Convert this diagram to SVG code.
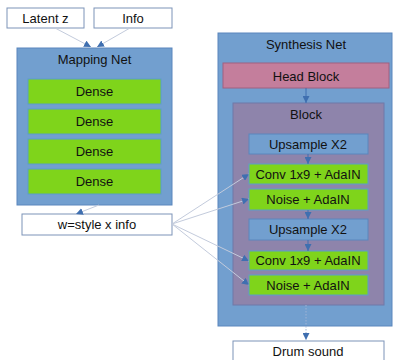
<svg xmlns="http://www.w3.org/2000/svg" width="393" height="360" viewBox="0 0 393 360">
<defs>
<style>
text{font-family:"Liberation Sans",Arial,sans-serif;font-size:13px;fill:#111;text-anchor:middle;dominant-baseline:central}
.white{fill:#fff;stroke:#7c93b8;stroke-width:1}
.blue{fill:#729fcf;stroke:#5a86bd;stroke-width:1}
.green{fill:#7fd41b;stroke:#5b9ec9;stroke-width:1}
.pink{fill:#c47e9c;stroke:#a06080;stroke-width:1}
.purple{fill:#8e84ab;stroke:#6f79a8;stroke-width:1}
.conn{fill:none;stroke:#c3cbdc;stroke-width:1}
.inner{fill:none;stroke:#3f6fb0;stroke-width:1}
.dot{fill:none;stroke:#9fb3d4;stroke-width:1;stroke-dasharray:1.5 1.5}
</style>
<marker id="ah" viewBox="0 0 10 10" refX="10" refY="5" markerWidth="7" markerHeight="7" orient="auto" markerUnits="userSpaceOnUse">
<path d="M0,0 L10,5 L0,10 z" fill="#3f6fb0"/>
</marker>
</defs>
<g id="synthesis-net">
<rect class="blue" x="218" y="33" width="174" height="293"/>
<text x="306" y="44">Synthesis Net</text>
</g>
<g id="head-block">
<rect class="pink" x="223" y="63" width="166" height="25"/>
<text x="306" y="76">Head Block</text>
</g>
<g id="block">
<rect class="purple" x="233" y="103" width="151" height="202"/>
<text x="306" y="114">Block</text>
</g>
<g id="upsample1"><rect class="blue" x="249" y="134" width="119" height="20"/><text x="308" y="144">Upsample X2</text></g>
<g id="conv1"><rect class="green" x="249" y="164" width="119" height="20"/><text x="308" y="174">Conv 1x9 + AdaIN</text></g>
<g id="noise1"><rect class="green" x="249" y="189" width="119" height="21"/><text x="308" y="199.5">Noise + AdaIN</text></g>
<g id="upsample2"><rect class="blue" x="249" y="219" width="119" height="21"/><text x="308" y="229.5">Upsample X2</text></g>
<g id="conv2"><rect class="green" x="249" y="251" width="119" height="19"/><text x="308" y="260.5">Conv 1x9 + AdaIN</text></g>
<g id="noise2"><rect class="green" x="249" y="275" width="119" height="20"/><text x="308" y="285">Noise + AdaIN</text></g>
<g id="drum-sound"><rect class="white" x="233" y="341" width="151" height="22"/><text x="308" y="351">Drum sound</text></g>
<g id="latent-z"><rect class="white" x="7" y="8" width="77" height="20"/><text x="45.5" y="18">Latent z</text></g>
<g id="info"><rect class="white" x="94" y="8" width="78" height="20"/><text x="133" y="18">Info</text></g>
<g id="mapping-net">
<rect class="blue" x="17" y="48" width="155" height="157"/>
<text x="94.5" y="59">Mapping Net</text>
</g>
<g id="dense1"><rect class="green" x="28" y="79" width="133" height="25"/><text x="94.5" y="91.5">Dense</text></g>
<g id="dense2"><rect class="green" x="28" y="109" width="133" height="25"/><text x="94.5" y="121.5">Dense</text></g>
<g id="dense3"><rect class="green" x="28" y="139" width="133" height="25"/><text x="94.5" y="151.5">Dense</text></g>
<g id="dense4"><rect class="green" x="28" y="169" width="133" height="25"/><text x="94.5" y="181.5">Dense</text></g>
<g id="w-style"><rect class="white" x="22" y="214" width="150" height="21"/><text x="97" y="224.5">w=style x info</text></g>
<g id="connectors">
<path class="conn" d="M55,28 L91,47" marker-end="url(#ah)"/>
<path class="conn" d="M130,28 L97,47" marker-end="url(#ah)"/>
<path class="conn" d="M99,205 L76,214" marker-end="url(#ah)"/>
<path class="conn" d="M172,224 L249,174" marker-end="url(#ah)"/>
<path class="conn" d="M172,224 L249,199" marker-end="url(#ah)"/>
<path class="conn" d="M172,224 L249,261" marker-end="url(#ah)"/>
<path class="conn" d="M172,224 L249,285" marker-end="url(#ah)"/>
<path class="inner" d="M306,88 L306,103" marker-end="url(#ah)"/>
<path class="inner" d="M308,154 L308,164" marker-end="url(#ah)"/>
<path class="inner" d="M308,210 L308,219" marker-end="url(#ah)"/>
<path class="inner" d="M308,240 L308,251" marker-end="url(#ah)"/>
<path class="dot" d="M306,305 L306,340" marker-end="url(#ah)"/>
</g>
</svg>
